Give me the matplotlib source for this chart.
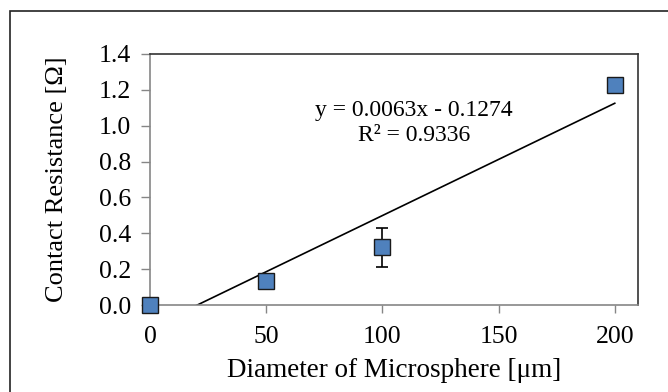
import numpy as np
import matplotlib.pyplot as plt
from matplotlib.patches import Rectangle

# diametro das microesferas [um] e resistencia de contato [ohm]
diametro = [0, 50, 100, 200]
resistencia = [0.0, 0.134, 0.321, 1.227]
erro = [0.0, 0.0, 0.11, 0.0]

plt.rcParams['font.family'] = ['Liberation Serif', 'DejaVu Serif']

fig = plt.figure(figsize=(6.68, 3.92), dpi=100)
ax = fig.add_axes([150 / 668, 1 - 305 / 392, 488 / 668, 251 / 392])

# borda externa do grafico
fig.patches.append(Rectangle((10 / 668, -0.01), 1, 1 - 11 / 392 + 0.01,
                             transform=fig.transFigure, fill=False,
                             edgecolor='#222222', linewidth=1.2))

# linha de tendencia (regressao linear)
coef = np.polyfit(diametro, resistencia, 1)
xs = np.array([0, 200])
ax.plot(xs, np.polyval(coef, xs), color='black', linewidth=1.2, zorder=2)

ax.errorbar(diametro, resistencia, yerr=erro, fmt='none', ecolor='black',
            elinewidth=1.2, capsize=4, capthick=1.2, zorder=3)
ax.plot(diametro, resistencia, 's', markersize=11.5, markerfacecolor='#4F81BD',
        markeredgecolor='#1a1a1a', markeredgewidth=1.0, clip_on=False, zorder=4)

ax.text(113.5, 1.015, 'y = 0.0063x - 0.1274\nR² = 0.9336', ha='center', va='center',
        fontsize=17, linespacing=1.3)

ax.set_xlim(0, 210)
ax.set_ylim(0, 1.4)
ax.set_xticks([0, 50, 100, 150, 200])
ax.set_yticks(np.arange(0, 1.41, 0.2))
ax.set_yticklabels(['%.1f' % v for v in np.arange(0, 1.41, 0.2)])

for lado in ['left', 'bottom']:
    ax.spines[lado].set_color('#868686')
    ax.spines[lado].set_linewidth(1.2)
for lado in ['top', 'right']:
    ax.spines[lado].set_color('#333333')
    ax.spines[lado].set_linewidth(1.2)

ax.tick_params(axis='both', direction='out', width=1.0, color='#868686',
               labelsize=18.5)
ax.tick_params(axis='y', length=6.5, pad=7)
ax.tick_params(axis='x', length=5.5, pad=9.5)

ax.set_xlabel('Diameter of Microsphere [μm]', fontsize=19.5, labelpad=7)
ax.set_ylabel('Contact Resistance [Ω]', fontsize=19, labelpad=22)

fig.savefig('out.png', dpi=100)
